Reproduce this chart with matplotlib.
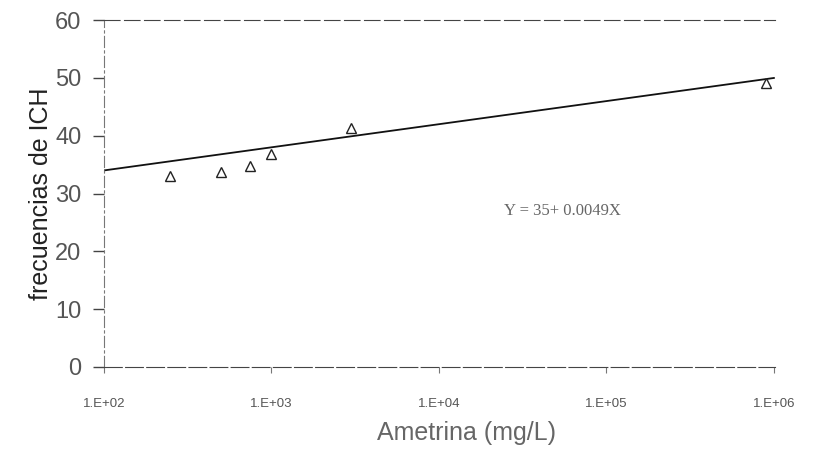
import matplotlib
matplotlib.use("Agg")
import matplotlib.pyplot as plt
import numpy as np

# values
ametrina = [250, 500, 750, 1000, 3000, 900000]
frecuencias = [33.0, 33.7, 34.8, 36.8, 41.3, 49.1]
fit_x = [100, 1000000]
fit_y = [34.0, 50.0]
y_ticks = [0, 10, 20, 30, 40, 50, 60]
x_ticks = [1e2, 1e3, 1e4, 1e5, 1e6]
x_tick_labels = ["1.E+02", "1.E+03", "1.E+04", "1.E+05", "1.E+06"]
ecuacion = "Y = 35+ 0.0049X"

plt.rcParams["font.family"] = ["Liberation Sans", "DejaVu Sans"]

fig = plt.figure(figsize=(8.17, 4.69), dpi=100)
ax = fig.add_axes([0.127, 0.2175, 0.822, 0.7395])

ax.plot(fit_x, fit_y, color="#111111", lw=1.3)
ax.plot(ametrina, frecuencias, ls="none", marker="^", markersize=7,
        markerfacecolor="white", markeredgecolor="#222222", markeredgewidth=1.0)

ax.set_xscale("log")
ax.set_xlim(1e2, 1.02e6)
ax.set_ylim(0, 60)
ax.set_xticks(x_ticks)
ax.set_xticklabels(x_tick_labels)
ax.xaxis.set_minor_locator(matplotlib.ticker.NullLocator())
ax.set_yticks(y_ticks)

ax.tick_params(axis="y", direction="out", length=8, width=1, colors="#444444",
               labelsize=17, labelcolor="#555555", pad=8)
ax.tick_params(axis="x", direction="out", length=4, width=0.8, colors="#777777",
               labelsize=9.5, labelcolor="#555555", pad=18)

ax.spines["right"].set_visible(False)
ax.spines["top"].set_linestyle((0, (14, 4)))
ax.spines["top"].set_color("#444444")
ax.spines["bottom"].set_linestyle((0, (16, 3)))
ax.spines["bottom"].set_color("#444444")
ax.spines["left"].set_linestyle((0, (10, 3, 2, 3)))
ax.spines["left"].set_color("#777777")

ax.set_ylabel("frecuencias de ICH", fontsize=18, color="#222222")
ax.yaxis.set_label_coords(-0.075, 0.5)
ax.set_xlabel("Ametrina (mg/L)", fontsize=18, color="#666666")
ax.xaxis.set_label_coords(0.54, -0.155)

ax.text(2.45e4, 27.0, ecuacion, fontsize=12, family="Liberation Serif",
        color="#666666", ha="left", va="center")

fig.savefig("out.png", dpi=100)
